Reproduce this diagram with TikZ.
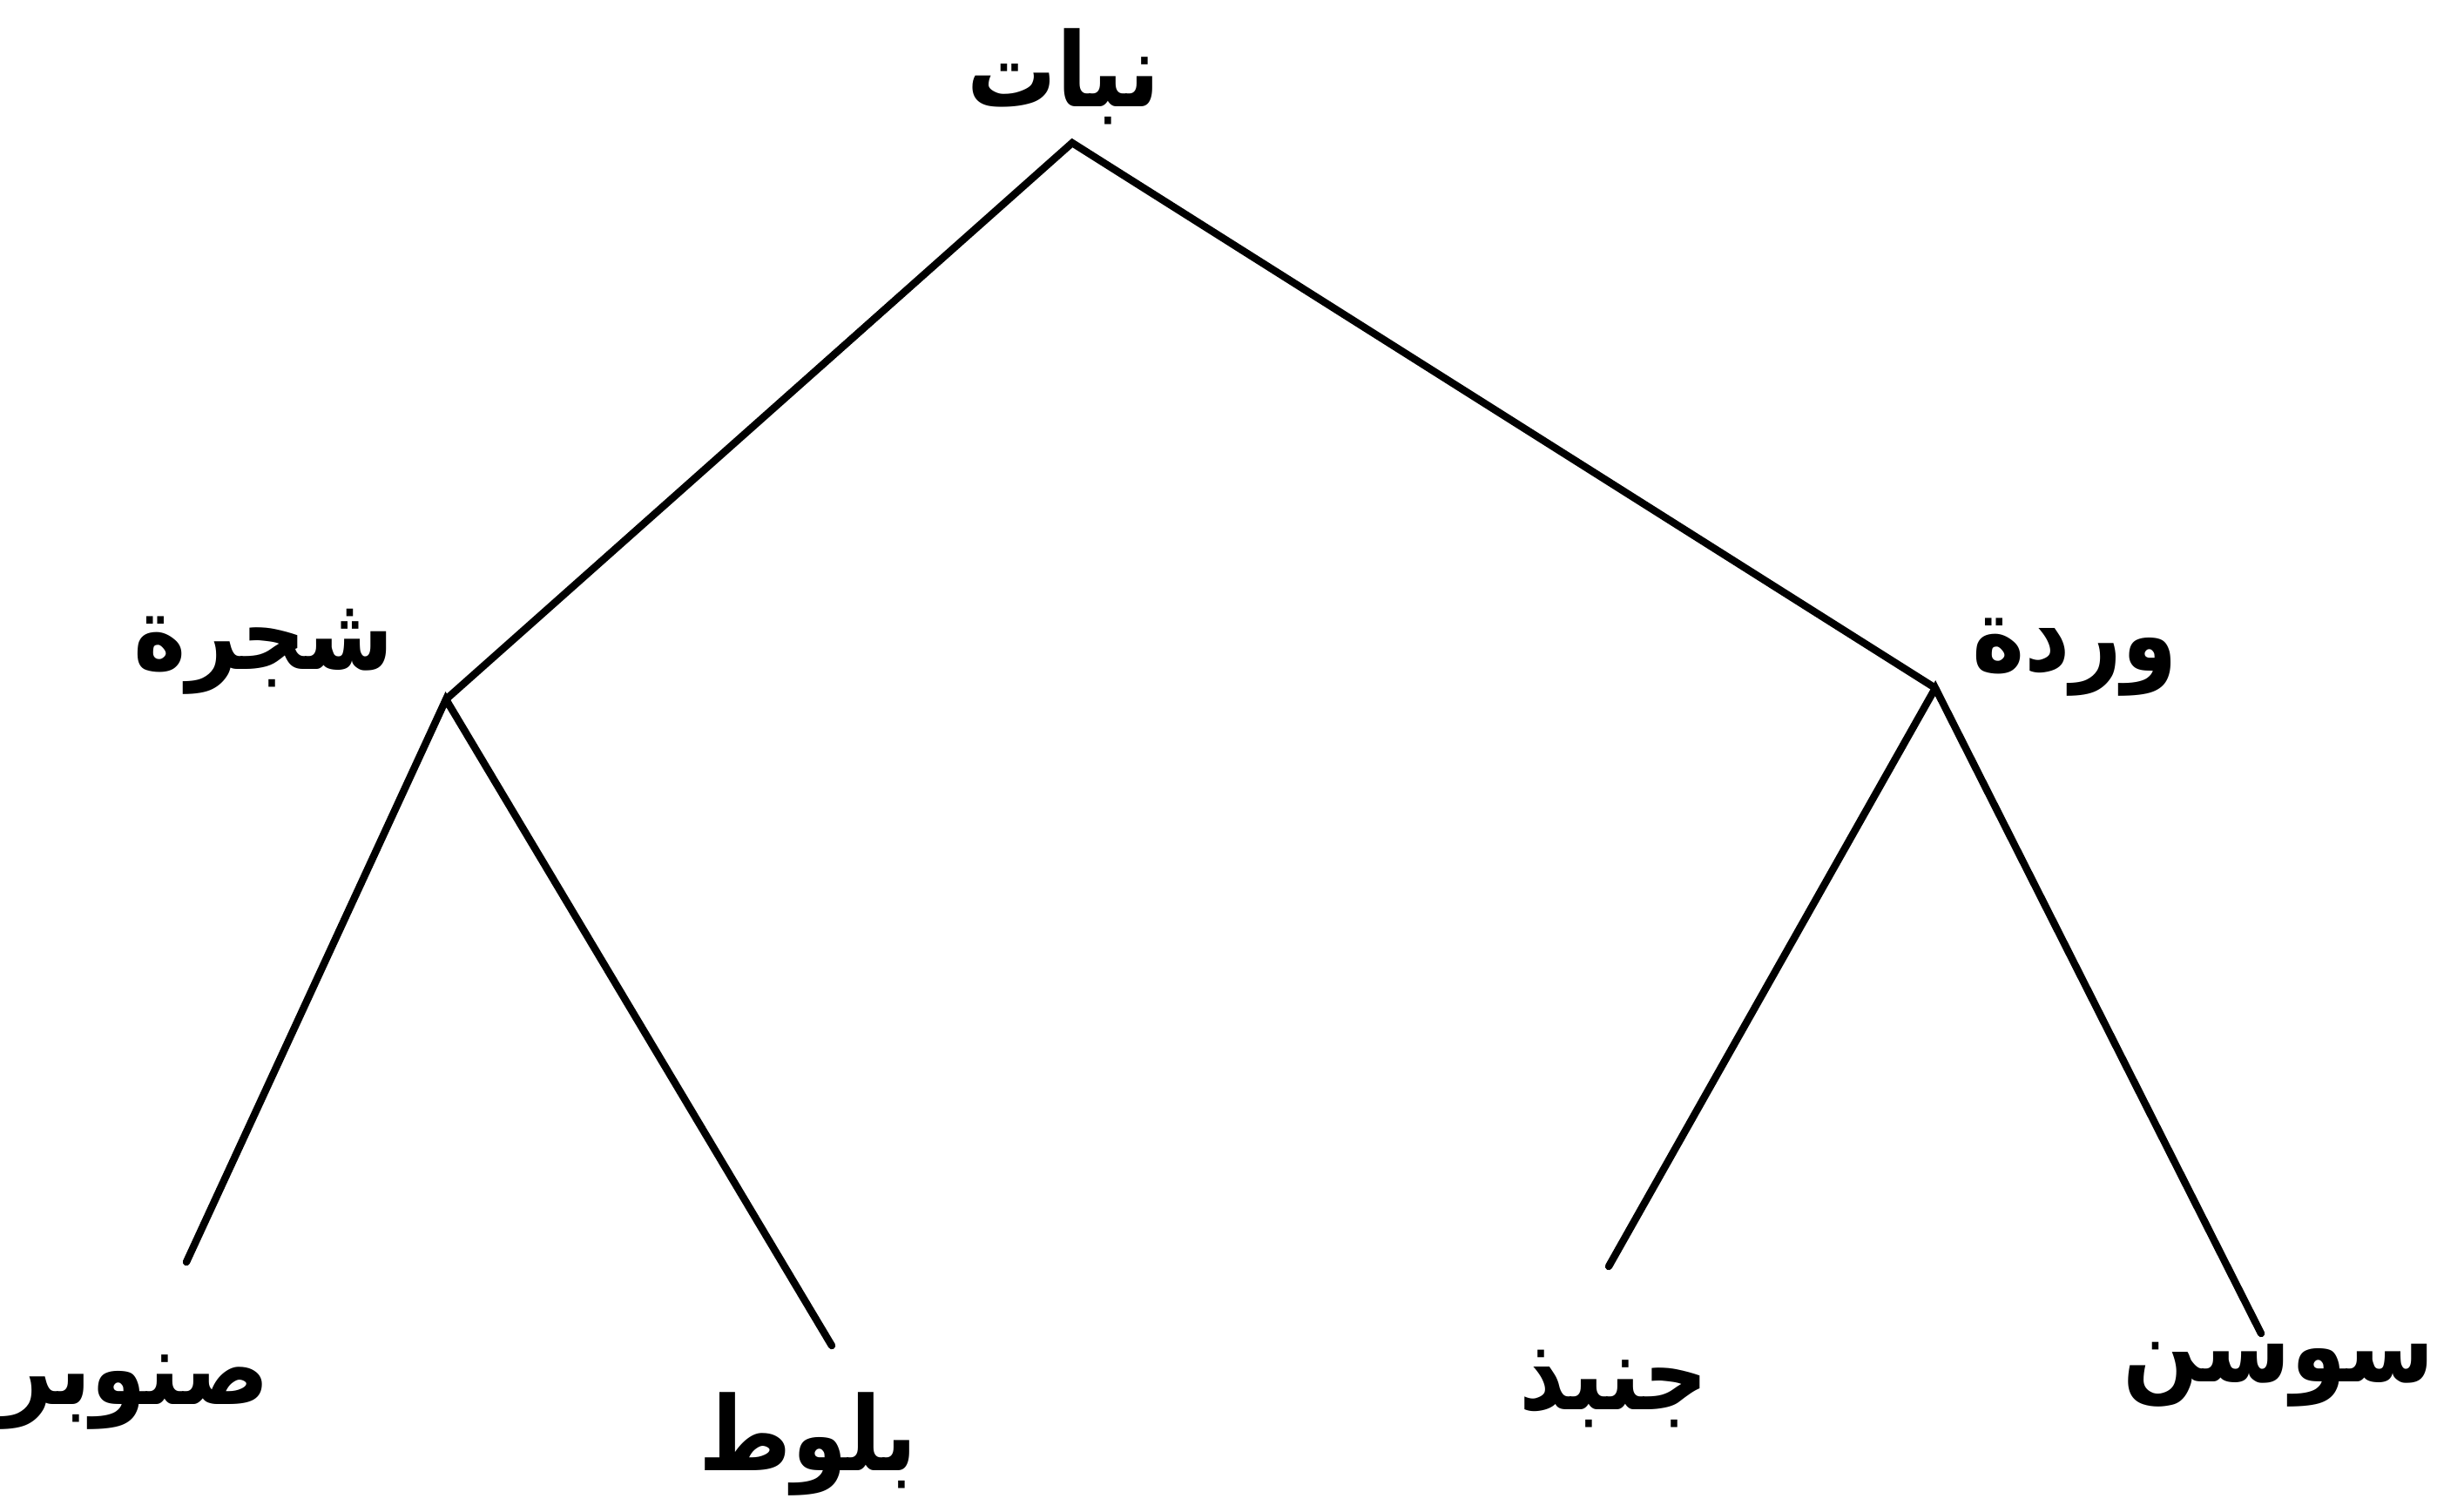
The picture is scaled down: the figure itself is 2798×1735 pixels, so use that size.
\documentclass[tikz,border=0pt]{standalone}
\usepackage{fontspec}
\newfontfamily\arabicfont[Script=Arabic]{DejaVu Sans}
\TeXXeTstate=1
\newcommand{\artxt}[1]{\scalebox{0.97}[1.12]{\beginR #1\endR}}
\begin{document}
\begin{tikzpicture}[x=0.01cm,y=-0.01cm,
  lbl/.style={inner sep=0pt,font=\arabicfont\bfseries\fontsize{30}{36}\selectfont},
  edge/.style={line width=2.4pt,line cap=round,line join=miter}]
\useasboundingbox (0,0) rectangle (2798,1735);
% labels
\node[lbl] (nabat) at (1221,88) {\artxt{نبات}};
\node[lbl] (shajara) at (303,748) {\artxt{شجرة}};
\node[lbl] (warda) at (2382,755) {\artxt{وردة}};
\node[lbl,anchor=west] (sanawbar) at (2,1598) {\artxt{صنوبر}};
\node[lbl] (ballut) at (928,1658) {\artxt{بلوط}};
\node[lbl] (junbudh) at (1853,1595) {\artxt{جنبذ}};
\node[lbl,anchor=east] (sawsan) at (2796,1578) {\artxt{سوسن}};
% branch points
\coordinate (r) at (1231,164);
\coordinate (a) at (512,803);
\coordinate (b) at (2222,790);
\coordinate (a1) at (214,1449);
\coordinate (a2) at (955,1545);
\coordinate (b1) at (1847,1454);
\coordinate (b2) at (2596,1531);
\draw[edge] (a) -- (r) -- (b);
\draw[edge] (a1) -- (a) -- (a2);
\draw[edge] (b1) -- (b) -- (b2);
\end{tikzpicture}
\end{document}
